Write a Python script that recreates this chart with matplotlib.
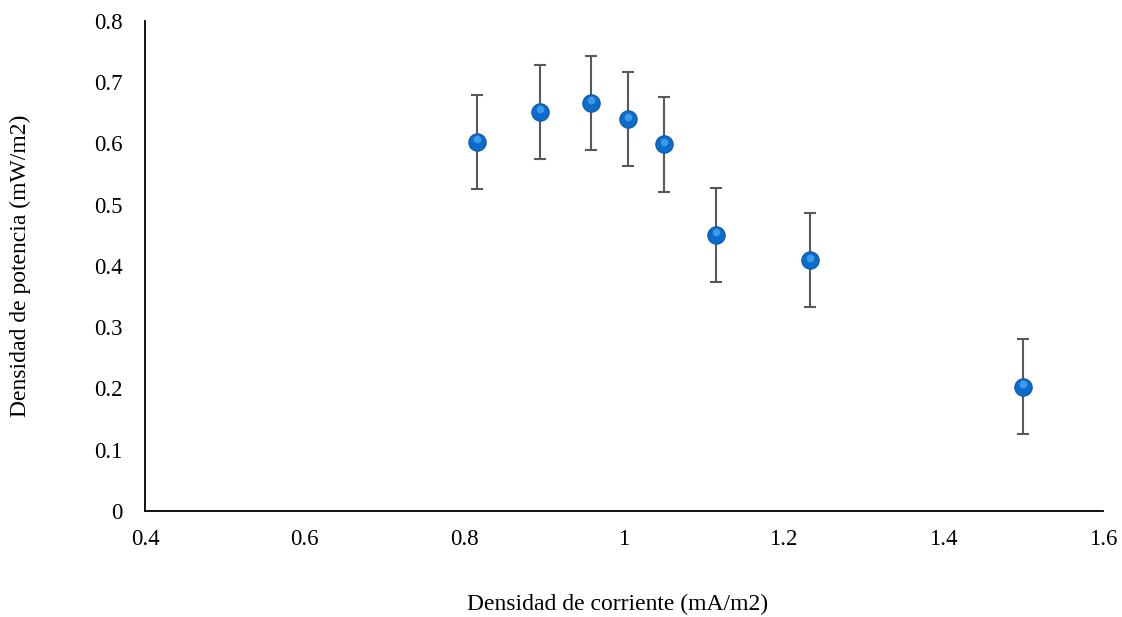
import matplotlib.pyplot as plt
from matplotlib.transforms import offset_copy

# datos
corriente = [0.816, 0.895, 0.959, 1.005, 1.050, 1.115, 1.233, 1.500]
potencia = [0.602, 0.651, 0.666, 0.639, 0.598, 0.450, 0.409, 0.203]
error = [0.077, 0.077, 0.077, 0.077, 0.077, 0.077, 0.077, 0.077]

x_ticks = [0.4, 0.6, 0.8, 1.0, 1.2, 1.4, 1.6]
x_labels = ["0.4", "0.6", "0.8", "1", "1.2", "1.4", "1.6"]
y_ticks = [0, 0.1, 0.2, 0.3, 0.4, 0.5, 0.6, 0.7, 0.8]
y_labels = ["0", "0.1", "0.2", "0.3", "0.4", "0.5", "0.6", "0.7", "0.8"]

plt.rcParams["font.family"] = ["Liberation Serif", "DejaVu Serif"]

fig = plt.figure(figsize=(11.22, 6.17), dpi=100)
ax = fig.add_axes([0.1292, 0.1718, 0.8539, 0.7948])

ax.errorbar(corriente, potencia, yerr=error, fmt="none", ecolor="#595959",
            elinewidth=1.5, capsize=4.3, capthick=1.5, zorder=2)
# bolita azul con un brillo arriba
ax.plot(corriente, potencia, "o", ms=12.5, color="#0c6ccc", mec="#0a58a8", mew=0.8, zorder=3)
brillo = offset_copy(ax.transData, fig=fig, x=0, y=2.0, units="points")
ax.plot(corriente, potencia, "o", ms=5.5, color="#4aa6ee", mec="none", alpha=0.8,
        transform=brillo, zorder=4)

ax.set_xlim(0.4, 1.6)
ax.set_ylim(0, 0.8)
ax.set_xticks(x_ticks, x_labels)
ax.set_yticks(y_ticks, y_labels)
ax.tick_params(axis="both", length=0, labelsize=16.5)
ax.tick_params(axis="x", pad=13)
ax.tick_params(axis="y", pad=16)

for side in ("top", "right"):
    ax.spines[side].set_visible(False)
for side in ("left", "bottom"):
    ax.spines[side].set_linewidth(1.3)
    ax.spines[side].set_color("black")

ax.set_xlabel("Densidad de corriente (mA/m2)", fontsize=17)
ax.set_ylabel("Densidad de potencia (mW/m2)", fontsize=17)
ax.xaxis.set_label_coords(0.493, -0.19)
ax.xaxis.label.set_va("center")
ax.yaxis.set_label_coords(-0.1305, 0.5)
ax.yaxis.label.set_va("center")

fig.savefig("out.png", dpi=100)
